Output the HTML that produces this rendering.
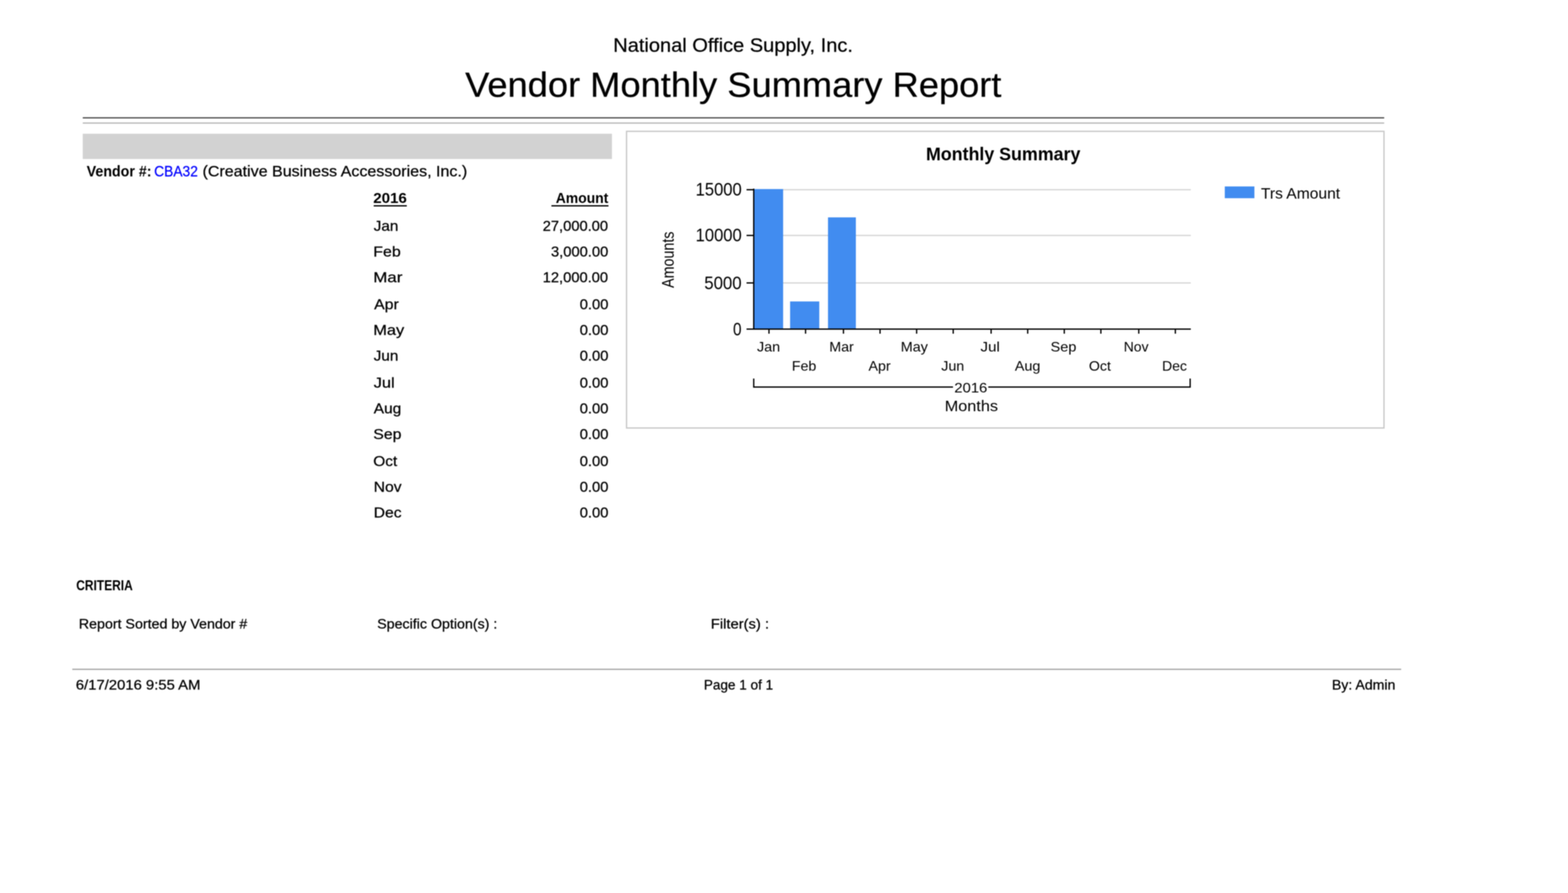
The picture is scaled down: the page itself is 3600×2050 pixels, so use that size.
<!DOCTYPE html>
<html lang="en"><head><meta charset="utf-8"><title>Vendor Monthly Summary Report</title>
<style>
html,body{margin:0;padding:0;background:#fff;}
body{width:3600px;height:2050px;overflow:hidden;}
#sheet{position:relative;width:3600px;height:2050px;overflow:hidden;background:#fff;font-family:"Liberation Sans",sans-serif;color:#000;filter:blur(0.9px);}
.g{position:absolute;left:0;top:0;width:0;height:0;margin:0;padding:0;}
.r{position:absolute;}
.t{position:absolute;margin:0;padding:0;white-space:pre;line-height:1;font-weight:400;transform-origin:0 0;}
</style></head>
<body>
<main id="sheet">
<header class="g" aria-label="Report header">
<div class="r" style="left:190px;top:269px;width:2988px;height:3px;background:#505050"></div>
<div class="r" style="left:190px;top:281px;width:2988px;height:3px;background:#b9b9b9"></div>
<p class="t" style="left:1407.91px;top:81.30px;font-size:45.00px;transform:scaleX(1.0216);-webkit-text-stroke:0.5px currentColor;">National Office Supply, Inc.</p>
<h1 class="t" style="left:1067.50px;top:154.80px;font-size:80.00px;transform:scaleX(1.0410);-webkit-text-stroke:0.5px currentColor;">Vendor Monthly Summary Report</h1>
</header>
<section class="g" aria-label="Vendor group">
<div class="r" style="left:190px;top:307px;width:1215px;height:58px;background:#d2d2d2"></div>
<span class="t" style="left:199.00px;top:376.20px;font-size:34.60px;transform:scaleX(0.9445);font-weight:700;">Vendor #:</span>
<span class="t" style="left:354.32px;top:376.20px;font-size:34.60px;transform:scaleX(0.9155);-webkit-text-stroke:0.5px currentColor;color:#0000ff;">CBA32</span>
<span class="t" style="left:465.47px;top:376.20px;font-size:34.60px;transform:scaleX(1.0648);-webkit-text-stroke:0.5px currentColor;">(Creative Business Accessories, Inc.)</span>
</section>
<section class="g" aria-label="Monthly amounts">
<div class="r" style="left:858px;top:471px;width:76px;height:3px;background:#000"></div>
<div class="r" style="left:1266px;top:471px;width:131px;height:3px;background:#000"></div>
<div class="t" style="left:857.22px;top:438.40px;font-size:33.00px;transform:scaleX(1.0495);font-weight:700;">2016</div>
<div class="t" style="left:1275.50px;top:438.40px;font-size:33.00px;transform:scaleX(0.9689);font-weight:700;">Amount</div>
<div class="t" style="left:857.95px;top:502.75px;font-size:32.80px;transform:scaleX(1.0707);-webkit-text-stroke:0.5px currentColor;">Jan</div>
<div class="t" style="left:1246.42px;top:502.75px;font-size:32.80px;transform:scaleX(1.0288);-webkit-text-stroke:0.5px currentColor;">27,000.00</div>
<div class="t" style="left:857.14px;top:561.81px;font-size:32.80px;transform:scaleX(1.1154);-webkit-text-stroke:0.5px currentColor;">Feb</div>
<div class="t" style="left:1264.94px;top:561.81px;font-size:32.80px;transform:scaleX(1.0307);-webkit-text-stroke:0.5px currentColor;">3,000.00</div>
<div class="t" style="left:856.97px;top:620.88px;font-size:32.80px;transform:scaleX(1.1829);-webkit-text-stroke:0.5px currentColor;">Mar</div>
<div class="t" style="left:1246.49px;top:620.88px;font-size:32.80px;transform:scaleX(1.0283);-webkit-text-stroke:0.5px currentColor;">12,000.00</div>
<div class="t" style="left:858.50px;top:682.75px;font-size:32.80px;transform:scaleX(1.1065);-webkit-text-stroke:0.5px currentColor;">Apr</div>
<div class="t" style="left:1330.64px;top:682.75px;font-size:32.80px;transform:scaleX(1.0323);-webkit-text-stroke:0.5px currentColor;">0.00</div>
<div class="t" style="left:857.07px;top:741.81px;font-size:32.80px;transform:scaleX(1.1447);-webkit-text-stroke:0.5px currentColor;">May</div>
<div class="t" style="left:1330.64px;top:741.81px;font-size:32.80px;transform:scaleX(1.0323);-webkit-text-stroke:0.5px currentColor;">0.00</div>
<div class="t" style="left:857.75px;top:800.88px;font-size:32.80px;transform:scaleX(1.0707);-webkit-text-stroke:0.5px currentColor;">Jun</div>
<div class="t" style="left:1330.64px;top:800.88px;font-size:32.80px;transform:scaleX(1.0323);-webkit-text-stroke:0.5px currentColor;">0.00</div>
<div class="t" style="left:857.71px;top:862.75px;font-size:32.80px;transform:scaleX(1.1489);-webkit-text-stroke:0.5px currentColor;">Jul</div>
<div class="t" style="left:1330.64px;top:862.75px;font-size:32.80px;transform:scaleX(1.0323);-webkit-text-stroke:0.5px currentColor;">0.00</div>
<div class="t" style="left:858.30px;top:921.81px;font-size:32.80px;transform:scaleX(1.0864);-webkit-text-stroke:0.5px currentColor;">Aug</div>
<div class="t" style="left:1330.64px;top:921.81px;font-size:32.80px;transform:scaleX(1.0323);-webkit-text-stroke:0.5px currentColor;">0.00</div>
<div class="t" style="left:857.17px;top:980.88px;font-size:32.80px;transform:scaleX(1.1070);-webkit-text-stroke:0.5px currentColor;">Sep</div>
<div class="t" style="left:1330.64px;top:980.88px;font-size:32.80px;transform:scaleX(1.0323);-webkit-text-stroke:0.5px currentColor;">0.00</div>
<div class="t" style="left:856.64px;top:1042.75px;font-size:32.80px;transform:scaleX(1.0786);-webkit-text-stroke:0.5px currentColor;">Oct</div>
<div class="t" style="left:1330.64px;top:1042.75px;font-size:32.80px;transform:scaleX(1.0323);-webkit-text-stroke:0.5px currentColor;">0.00</div>
<div class="t" style="left:857.59px;top:1101.81px;font-size:32.80px;transform:scaleX(1.0956);-webkit-text-stroke:0.5px currentColor;">Nov</div>
<div class="t" style="left:1330.64px;top:1101.81px;font-size:32.80px;transform:scaleX(1.0323);-webkit-text-stroke:0.5px currentColor;">0.00</div>
<div class="t" style="left:857.59px;top:1160.88px;font-size:32.80px;transform:scaleX(1.0949);-webkit-text-stroke:0.5px currentColor;">Dec</div>
<div class="t" style="left:1330.64px;top:1160.88px;font-size:32.80px;transform:scaleX(1.0323);-webkit-text-stroke:0.5px currentColor;">0.00</div>
</section>
<section class="g" aria-label="Monthly Summary chart">
<div class="r" style="left:1437px;top:300px;width:1742px;height:3px;background:#c8c8c8"></div>
<div class="r" style="left:1437px;top:981px;width:1742px;height:3px;background:#c8c8c8"></div>
<div class="r" style="left:1437px;top:300px;width:3px;height:684px;background:#c8c8c8"></div>
<div class="r" style="left:3176px;top:300px;width:3px;height:684px;background:#c8c8c8"></div>
<div class="r" style="left:1732px;top:434px;width:1002px;height:3px;background:#d6d6d6"></div>
<div class="r" style="left:1732px;top:539px;width:1002px;height:3px;background:#d6d6d6"></div>
<div class="r" style="left:1732px;top:648px;width:1002px;height:3px;background:#d6d6d6"></div>
<div class="r" style="left:1732px;top:434px;width:66px;height:323px;background:#418cf0"></div>
<div class="r" style="left:1814px;top:692px;width:67px;height:65px;background:#418cf0"></div>
<div class="r" style="left:1901px;top:499px;width:64px;height:258px;background:#418cf0"></div>
<div class="r" style="left:1729px;top:433px;width:3px;height:324px;background:#000"></div>
<div class="r" style="left:1714px;top:754px;width:1020px;height:3px;background:#000"></div>
<div class="r" style="left:1714px;top:434px;width:16px;height:3px;background:#000"></div>
<div class="r" style="left:1714px;top:539px;width:16px;height:3px;background:#000"></div>
<div class="r" style="left:1714px;top:648px;width:16px;height:3px;background:#000"></div>
<div class="r" style="left:1764px;top:757px;width:3px;height:9px;background:#000"></div>
<div class="r" style="left:1848px;top:757px;width:3px;height:9px;background:#000"></div>
<div class="r" style="left:1935px;top:757px;width:3px;height:9px;background:#000"></div>
<div class="r" style="left:2019px;top:757px;width:3px;height:9px;background:#000"></div>
<div class="r" style="left:2103px;top:757px;width:3px;height:9px;background:#000"></div>
<div class="r" style="left:2187px;top:757px;width:3px;height:9px;background:#000"></div>
<div class="r" style="left:2274px;top:757px;width:3px;height:9px;background:#000"></div>
<div class="r" style="left:2358px;top:757px;width:3px;height:9px;background:#000"></div>
<div class="r" style="left:2442px;top:757px;width:3px;height:9px;background:#000"></div>
<div class="r" style="left:2526px;top:757px;width:3px;height:9px;background:#000"></div>
<div class="r" style="left:2613px;top:757px;width:3px;height:9px;background:#000"></div>
<div class="r" style="left:2697px;top:757px;width:3px;height:9px;background:#000"></div>
<div class="r" style="left:1729px;top:869px;width:3px;height:21px;background:#000"></div>
<div class="r" style="left:2731px;top:869px;width:3px;height:21px;background:#000"></div>
<div class="r" style="left:1729px;top:887px;width:459px;height:3px;background:#000"></div>
<div class="r" style="left:2269px;top:887px;width:465px;height:3px;background:#000"></div>
<div class="r" style="left:2812px;top:428px;width:68px;height:27px;background:#418cf0"></div>
<div class="t" style="left:2126.34px;top:331.90px;font-size:42.60px;transform:scaleX(0.9600);font-weight:700;">Monthly Summary</div>
<div class="t" style="left:1596.72px;top:414.00px;font-size:42.00px;transform:scaleX(0.9079);">15000</div>
<div class="t" style="left:1596.72px;top:519.40px;font-size:42.00px;transform:scaleX(0.9079);">10000</div>
<div class="t" style="left:1617.20px;top:629.40px;font-size:42.00px;transform:scaleX(0.9157);">5000</div>
<div class="t" style="left:1683.21px;top:734.80px;font-size:42.00px;transform:scaleX(0.8333);">0</div>
<div class="t" style="left:1738.18px;top:781.00px;font-size:31.30px;transform:scaleX(1.0535);">Jan</div>
<div class="t" style="left:1903.75px;top:781.00px;font-size:31.30px;transform:scaleX(1.0428);">Mar</div>
<div class="t" style="left:2068.42px;top:781.00px;font-size:31.30px;transform:scaleX(1.0549);">May</div>
<div class="t" style="left:2250.76px;top:781.00px;font-size:31.30px;transform:scaleX(1.1105);">Jul</div>
<div class="t" style="left:2412.16px;top:781.00px;font-size:31.30px;transform:scaleX(1.0646);">Sep</div>
<div class="t" style="left:2580.20px;top:781.00px;font-size:31.30px;transform:scaleX(1.0222);">Nov</div>
<div class="t" style="left:1818.45px;top:824.60px;font-size:31.30px;transform:scaleX(1.0414);">Feb</div>
<div class="t" style="left:1994.20px;top:824.60px;font-size:31.30px;transform:scaleX(1.0462);">Apr</div>
<div class="t" style="left:2161.39px;top:824.60px;font-size:31.30px;transform:scaleX(1.0473);">Jun</div>
<div class="t" style="left:2329.50px;top:824.60px;font-size:31.30px;transform:scaleX(1.0531);">Aug</div>
<div class="t" style="left:2499.68px;top:824.60px;font-size:31.30px;transform:scaleX(1.0374);">Oct</div>
<div class="t" style="left:2667.59px;top:824.60px;font-size:31.30px;transform:scaleX(1.0260);">Dec</div>
<div class="t" style="left:2191.00px;top:874.60px;font-size:31.30px;transform:scaleX(1.0883);">2016</div>
<div class="t" style="left:2169.09px;top:914.00px;font-size:35.00px;transform:scaleX(1.0654);">Months</div>
<div class="t" style="left:2895.34px;top:426.80px;font-size:35.40px;transform:scaleX(1.0121);">Trs Amount</div>
<div class="t" style="left:1514.60px;top:660.70px;font-size:38.00px;transform:rotate(-90deg) scaleX(0.8631);">Amounts</div>
</section>
<section class="g" aria-label="Criteria">
<div class="t" style="left:175.14px;top:1327.60px;font-size:32.60px;transform:scaleX(0.8437);font-weight:700;">CRITERIA</div>
<div class="t" style="left:180.55px;top:1417.00px;font-size:31.00px;transform:scaleX(1.0536);-webkit-text-stroke:0.5px currentColor;">Report Sorted by Vendor #</div>
<div class="t" style="left:866.18px;top:1417.00px;font-size:31.00px;transform:scaleX(1.0535);-webkit-text-stroke:0.5px currentColor;">Specific Option(s) :</div>
<div class="t" style="left:1631.65px;top:1417.00px;font-size:31.00px;transform:scaleX(1.0928);-webkit-text-stroke:0.5px currentColor;">Filter(s) :</div>
</section>
<footer class="g" aria-label="Page footer">
<div class="r" style="left:166px;top:1535px;width:3051px;height:3px;background:#a8a8a8"></div>
<div class="t" style="left:174.00px;top:1556.90px;font-size:31.60px;transform:scaleX(1.0788);-webkit-text-stroke:0.5px currentColor;">6/17/2016 9:55 AM</div>
<div class="t" style="left:1615.97px;top:1556.90px;font-size:31.00px;transform:scaleX(1.0026);-webkit-text-stroke:0.5px currentColor;">Page 1 of 1</div>
<div class="t" style="left:3057.77px;top:1556.90px;font-size:31.00px;transform:scaleX(1.0444);-webkit-text-stroke:0.5px currentColor;">By: Admin</div>
</footer>
</main>
</body></html>
